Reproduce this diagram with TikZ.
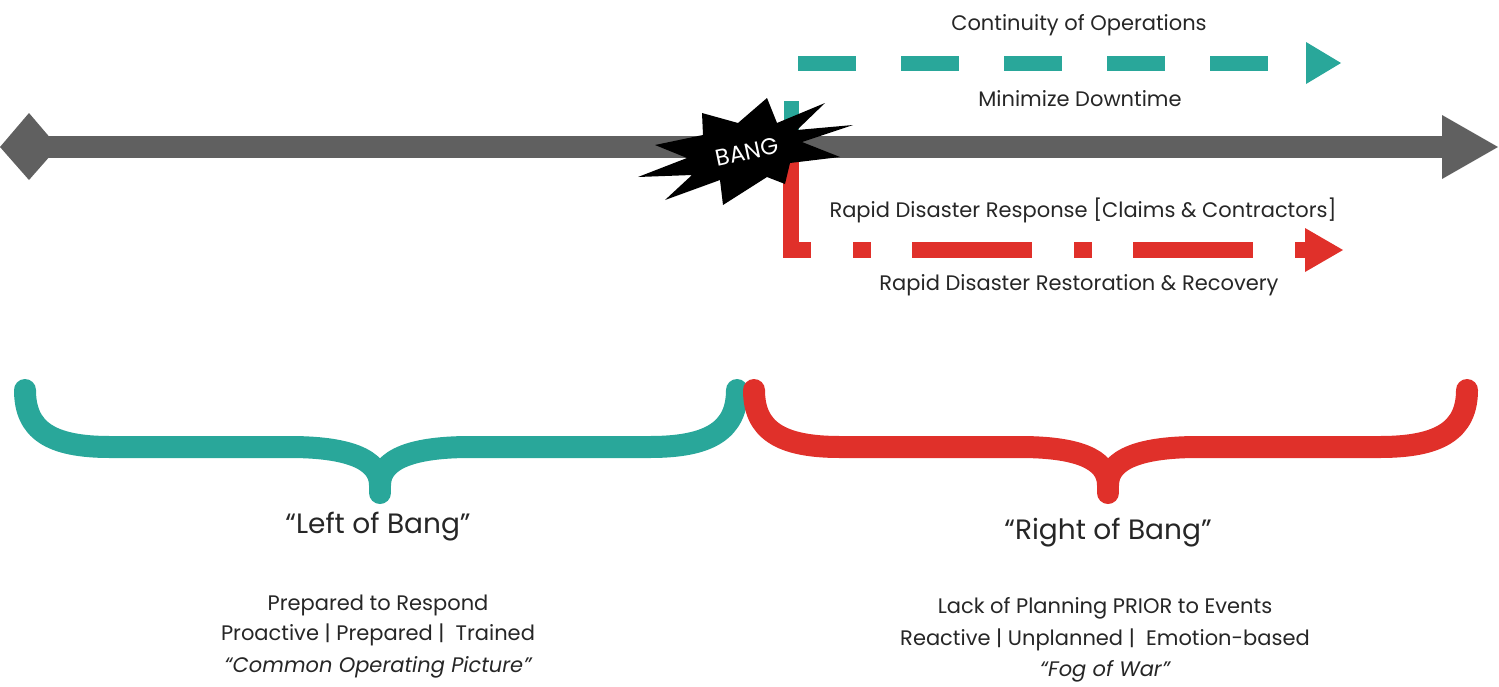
\documentclass[tikz,border=0pt]{standalone}
\usepackage{fontspec}
\setmainfont{Poppins}
\definecolor{teal1}{HTML}{29A79A}
\definecolor{red1}{HTML}{E0302A}
\definecolor{bar}{HTML}{606060}
\definecolor{txt}{HTML}{262626}
\begin{document}
\begin{tikzpicture}[x=1pt,y=-1pt,
  lbl/.style={text=txt,font=\fontsize{21}{24}\selectfont,inner sep=0pt},
  big/.style={text=txt,font=\fontsize{28}{32}\selectfont,inner sep=0pt},
  body/.style={text=txt,font=\fontsize{21}{24}\selectfont,inner sep=0pt,align=center},
  brace/.style={line width=22pt,line cap=round,line join=round},
  tealdash/.style={teal1,line width=15pt,dash pattern=on 58pt off 45pt},
  reddash/.style={red1,line width=16pt,dash pattern=on 120pt off 42pt on 18pt off 41pt}]
\useasboundingbox (0,0) rectangle (1499,686);
% dashed arrows
\coordinate (ts) at (791,159);
\coordinate (tc) at (791,63);
\coordinate (te) at (1300,63);
\draw[tealdash] (ts) -- (tc) -- (te);
\fill[teal1] (1306,42) -- (1341,63) -- (1306,84) -- cycle;
\coordinate (rs) at (791,150);
\coordinate (rc) at (791,250);
\coordinate (re) at (1312,250);
\draw[reddash] (rs) -- (rc) -- (re);
\fill[red1] (1305,228) -- (1343,250) -- (1305,272) -- cycle;
% main timeline
\coordinate (bl) at (28,147);
\coordinate (br) at (1445,147);
\draw[bar,line width=22pt] (bl) -- (br);
\fill[bar] (0,147) -- (29,113) -- (58,147) -- (29,180) -- cycle;
\fill[bar] (1442,115) -- (1498,147) -- (1442,179) -- cycle;
% bang
\fill[black] (767,98) -- (777,123) -- (825,103) -- (797,130) -- (853,125) -- (802,142)
  -- (840,157) -- (790,163) -- (785,184) -- (767,177) -- (723,205) -- (720,180)
  -- (665,200) -- (692,175) -- (638,177) -- (687,158) -- (655,145) -- (703,135)
  -- (702,113) -- (738,123) -- cycle;
\node[text=white,font=\fontsize{23}{26}\selectfont,rotate=12,inner sep=0pt] (bang) at (747,152) {BANG};
% labels
\node[lbl] (l1) at (1079,25) {Continuity of Operations};
\node[lbl] (l2) at (1080,99) {Minimize Downtime};
\node[lbl] (l3) at (1083,210) {Rapid Disaster Response [Claims \& Contractors]};
\node[lbl] (l4) at (1079,285) {Rapid Disaster Restoration \& Recovery};
% braces
\draw[brace,teal1] (25,390) .. controls (25,430) and (50,447) .. (110,447) -- (290,447)
  .. controls (345,447) and (380,458) .. (380,485)
  .. controls (380,458) and (415,447) .. (470,447) -- (650,447)
  .. controls (710,447) and (737,430) .. (737,390);
\draw[brace,teal1] (380,470) -- (380,493);
\draw[brace,red1] (754,390) .. controls (754,430) and (780,447) .. (840,447) -- (1020,447)
  .. controls (1075,447) and (1108,458) .. (1108,485)
  .. controls (1108,458) and (1143,447) .. (1198,447) -- (1380,447)
  .. controls (1440,447) and (1467,430) .. (1467,390);
\draw[brace,red1] (1108,470) -- (1108,493);
% section texts
\node[big] (lob) at (378,527) {“Left of Bang”};
\node[big] (rob) at (1108,533) {“Right of Bang”};
\node[body] (lt1) at (378,605) {Prepared to Respond};
\node[body] (lt2) at (378,635) {Proactive | Prepared |\ \ Trained};
\node[body,font=\fontsize{21}{24}\selectfont\itshape] (lt3) at (378,667) {“Common Operating Picture”};
\node[body] (rt1) at (1105,608) {Lack of Planning PRIOR to Events};
\node[body] (rt2) at (1105,640) {Reactive | Unplanned |\ \ Emotion-based};
\node[body,font=\fontsize{21}{24}\selectfont\itshape] (rt3) at (1105,671) {“Fog of War”};
\end{tikzpicture}
\end{document}
